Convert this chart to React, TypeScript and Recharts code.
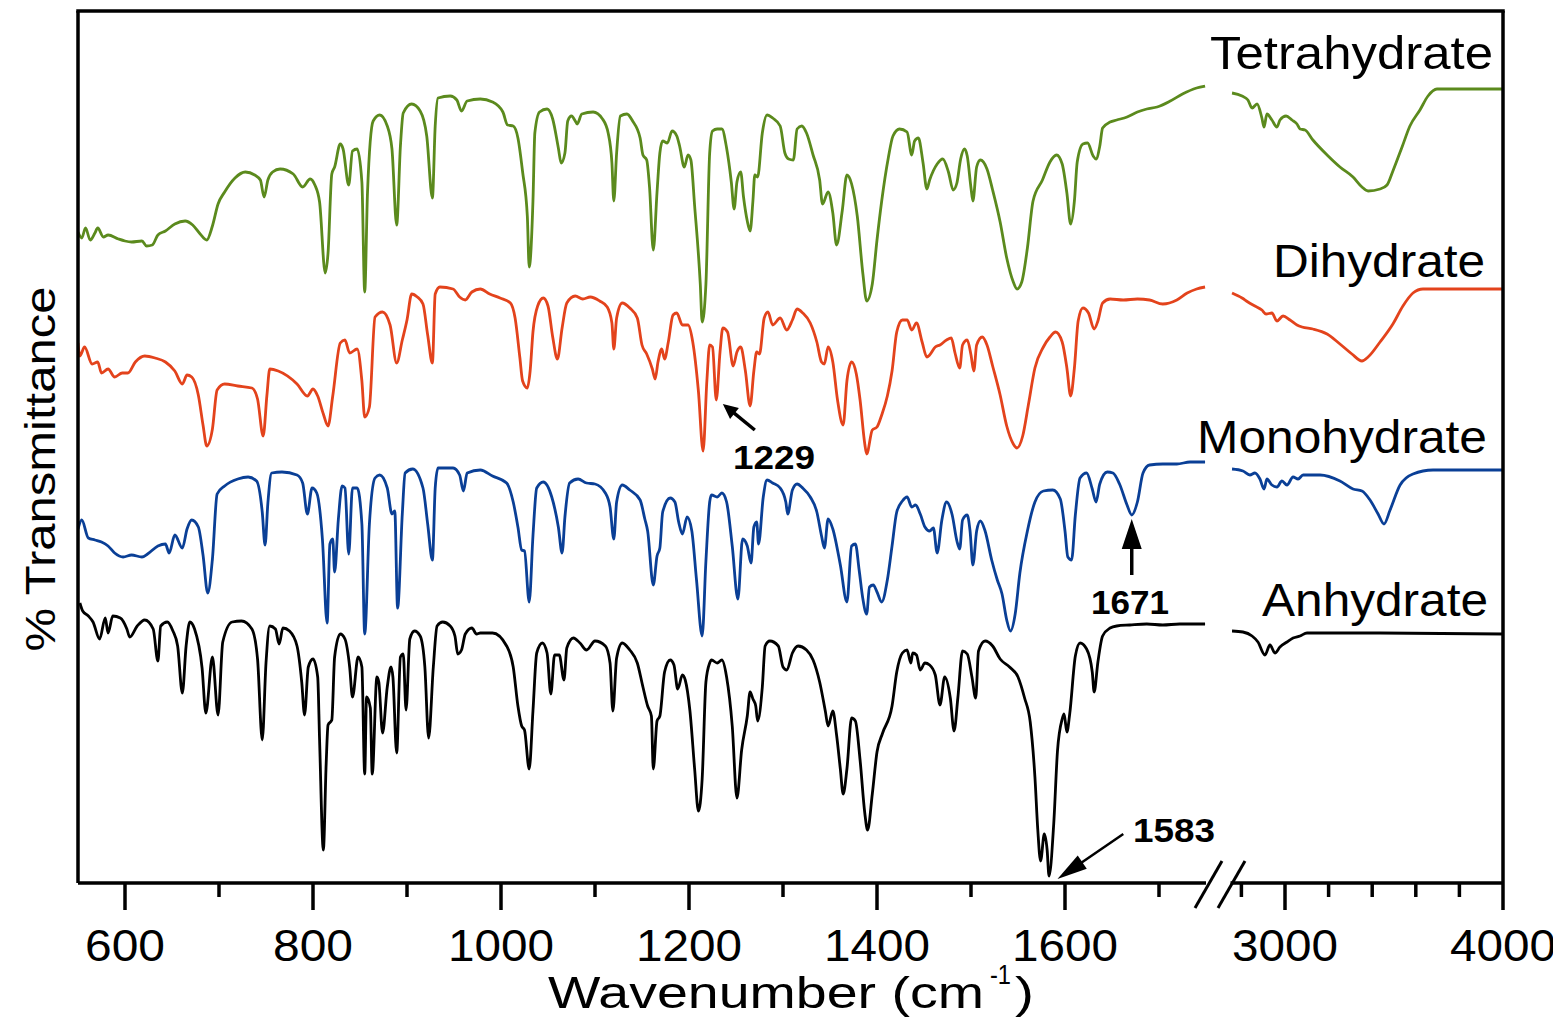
import React from "react";
import { LineChart, Line, XAxis, YAxis, ReferenceLine } from "recharts";

// ---------- data (wavenumber cm^-1, offset transmittance in arbitrary units) ----------
const tetrahydrateLow: [number, number][] = [
  [550,651],[554,645],[558,655],[563,643],[568,650],[571,655],[577,646],[582,648],[593,644],[600,642],[607,641],[618,642],[623,637],[629,638],[635,648],[643,652],[653,659],[664,662],[672,658],[680,649],[687,643],[693,657],[699,679],[706,691],[717,705],[728,711],[738,708],[744,703],[748,686],[752,703],[757,711],[765,714],[779,709],[789,696],[797,704],[802,698],[807,681],[813,610],[816,630],[820,709],[823,716],[829,739],[832,734],[838,698],[842,732],[847,734],[852,701],[855,591],[858,691],[864,762],[871,768],[879,757],[884,734],[889,658],[893,737],[896,770],[905,779],[914,772],[921,747],[927,685],[930,757],[933,785],[946,787],[953,783],[958,772],[964,782],[978,784],[991,781],[1002,771],[1007,758],[1013,757],[1018,745],[1023,711],[1028,667],[1030,616],[1034,682],[1036,750],[1041,771],[1049,774],[1055,764],[1061,735],[1064,720],[1068,730],[1071,762],[1075,767],[1079,762],[1081,759],[1086,769],[1098,771],[1108,764],[1114,750],[1118,720],[1120,682],[1123,730],[1127,767],[1134,769],[1140,762],[1148,745],[1151,728],[1155,723],[1158,696],[1162,633],[1166,691],[1169,730],[1172,742],[1177,740],[1182,752],[1187,747],[1190,737],[1195,716],[1199,728],[1202,723],[1206,677],[1212,599],[1214,561],[1218,599],[1222,730],[1225,752],[1230,754],[1235,754],[1240,735],[1245,701],[1248,674],[1251,701],[1255,711],[1258,686],[1262,662],[1265,652],[1268,682],[1270,708],[1273,706],[1278,750],[1283,768],[1289,765],[1297,757],[1302,730],[1306,724],[1311,723],[1315,754],[1320,757],[1325,750],[1332,728],[1339,703],[1342,679],[1348,691],[1353,670],[1357,638],[1363,672],[1368,708],[1373,699],[1379,667],[1385,609],[1389,582],[1395,599],[1400,643],[1405,682],[1412,725],[1417,747],[1424,754],[1432,751],[1437,728],[1440,742],[1444,745],[1449,720],[1453,694],[1456,703],[1464,719],[1470,724],[1476,711],[1481,693],[1485,700],[1489,724],[1493,734],[1496,727],[1500,695],[1502,682],[1506,716],[1510,723],[1517,714],[1523,693],[1531,661],[1538,625],[1545,601],[1549,594],[1554,601],[1560,635],[1566,682],[1576,703],[1584,721],[1591,728],[1597,719],[1602,690],[1606,659],[1610,682],[1613,721],[1619,739],[1624,740],[1630,727],[1633,724],[1637,737],[1640,755],[1648,761],[1655,763],[1666,766],[1677,771],[1687,774],[1698,776],[1712,782],[1725,789],[1740,795],[1749,797],
];
const tetrahydrateHigh: [number, number][] = [
  [2757,790],[2803,787],[2830,783],[2849,775],[2872,779],[2894,765],[2904,756],[2917,769],[2940,763],[2963,756],[2977,763],[3005,767],[3032,763],[3055,759],[3069,754],[3092,753],[3128,743],[3193,728],[3252,716],[3312,706],[3353,696],[3381,692],[3436,694],[3468,698],[3495,712],[3537,736],[3573,757],[3619,773],[3656,787],[3697,794],[3743,794],[4000,794],
];

const dihydrateLow: [number, number][] = [
  [550,540],[552,527],[557,536],[565,519],[571,521],[575,510],[582,514],[589,506],[597,510],[603,510],[611,521],[621,527],[632,525],[643,521],[653,512],[661,499],[666,508],[671,506],[678,488],[683,458],[687,437],[693,454],[698,493],[706,499],[720,497],[735,495],[741,484],[747,447],[751,488],[754,514],[763,512],[783,499],[794,487],[800,494],[805,487],[811,469],[816,457],[821,487],[829,540],[834,543],[839,530],[847,534],[852,502],[855,466],[860,476],[866,566],[874,571],[882,558],[889,520],[895,543],[900,563],[905,589],[911,586],[917,579],[922,548],[927,520],[930,589],[935,596],[949,594],[956,586],[962,583],[969,591],[978,594],[988,589],[999,585],[1010,580],[1015,565],[1020,526],[1023,502],[1028,495],[1031,512],[1034,551],[1039,577],[1045,585],[1050,577],[1055,546],[1060,524],[1065,555],[1070,580],[1079,587],[1087,584],[1095,586],[1105,582],[1113,576],[1118,560],[1120,534],[1123,565],[1129,580],[1137,575],[1145,565],[1150,538],[1155,529],[1161,514],[1164,504],[1167,521],[1171,534],[1174,524],[1178,541],[1183,568],[1187,570],[1193,558],[1199,558],[1204,541],[1210,492],[1215,432],[1219,502],[1222,538],[1225,536],[1229,483],[1233,531],[1236,555],[1241,551],[1247,517],[1251,531],[1255,536],[1260,512],[1265,477],[1269,512],[1272,531],[1275,529],[1280,565],[1284,571],[1289,558],[1297,565],[1304,553],[1310,563],[1315,574],[1321,570],[1329,560],[1336,541],[1341,521],[1344,519],[1348,536],[1353,521],[1358,483],[1364,458],[1368,502],[1373,521],[1378,509],[1382,483],[1387,439],[1389,429],[1395,453],[1400,456],[1405,468],[1411,487],[1416,512],[1421,551],[1427,563],[1432,563],[1437,553],[1442,560],[1448,541],[1453,526],[1456,528],[1462,536],[1467,538],[1474,543],[1479,545],[1483,530],[1488,515],[1491,538],[1496,543],[1500,528],[1503,512],[1506,538],[1512,546],[1517,538],[1523,517],[1531,488],[1538,457],[1545,439],[1549,435],[1555,447],[1561,478],[1568,515],[1577,536],[1584,546],[1590,551],[1597,541],[1602,515],[1606,487],[1610,515],[1614,562],[1619,575],[1625,570],[1631,554],[1635,562],[1640,580],[1648,584],[1662,583],[1677,584],[1690,583],[1704,579],[1719,583],[1730,590],[1740,594],[1749,596],
];
const dihydrateHigh: [number, number][] = [
  [2757,590],[2803,585],[2830,581],[2862,577],[2894,573],[2913,569],[2940,570],[2963,562],[2991,567],[3023,563],[3055,558],[3078,556],[3128,554],[3193,549],[3252,539],[3307,529],[3353,522],[3381,526],[3436,541],[3495,559],[3541,577],[3587,590],[3633,594],[3743,594],[4000,594],
];

const monohydrateLow: [number, number][] = [
  [550,354],[554,363],[561,345],[568,343],[575,341],[582,337],[589,330],[598,326],[607,328],[618,326],[624,329],[635,337],[643,339],[647,330],[653,348],[661,335],[666,354],[671,363],[678,356],[683,328],[688,290],[693,324],[698,389],[706,397],[720,404],[731,406],[740,402],[746,371],[749,338],[752,380],[756,410],[767,411],[783,408],[789,400],[794,369],[799,395],[804,390],[810,344],[815,260],[818,339],[821,344],[823,311],[827,364],[831,397],[834,395],[838,329],[842,395],[847,395],[852,359],[855,249],[860,359],[866,405],[871,408],[879,395],[884,369],[887,372],[890,275],[895,369],[898,410],[906,414],[917,395],[922,359],[927,323],[930,395],[933,415],[949,415],[956,408],[960,392],[964,410],[978,413],[991,407],[1006,400],[1013,381],[1018,356],[1022,333],[1025,332],[1030,281],[1034,347],[1038,395],[1045,401],[1054,386],[1061,356],[1065,330],[1068,366],[1073,400],[1082,404],[1091,400],[1100,399],[1111,390],[1116,376],[1120,344],[1123,381],[1129,398],[1137,393],[1148,383],[1153,364],[1156,352],[1162,298],[1166,327],[1169,335],[1172,371],[1180,385],[1185,381],[1189,361],[1193,349],[1198,366],[1203,352],[1208,303],[1214,247],[1218,322],[1222,381],[1224,388],[1230,386],[1235,390],[1240,381],[1246,337],[1252,284],[1257,344],[1262,337],[1266,320],[1269,356],[1272,361],[1274,339],[1279,386],[1283,403],[1289,400],[1297,395],[1303,381],[1305,369],[1310,393],[1315,399],[1321,395],[1329,386],[1336,371],[1341,347],[1344,335],[1348,364],[1353,354],[1361,318],[1368,281],[1373,337],[1377,339],[1381,313],[1385,284],[1389,269],[1392,296],[1396,298],[1400,291],[1405,281],[1411,303],[1416,337],[1421,371],[1427,382],[1432,386],[1437,376],[1441,378],[1446,369],[1451,356],[1456,352],[1460,355],[1464,330],[1469,363],[1474,381],[1480,368],[1485,342],[1488,334],[1491,363],[1496,368],[1499,352],[1502,318],[1506,352],[1510,362],[1515,352],[1522,323],[1528,303],[1533,289],[1538,263],[1542,252],[1547,269],[1552,310],[1560,352],[1568,381],[1577,392],[1587,393],[1595,384],[1600,352],[1603,326],[1607,323],[1611,368],[1616,405],[1623,410],[1629,394],[1633,381],[1637,399],[1645,411],[1651,410],[1658,399],[1666,378],[1671,368],[1677,381],[1683,410],[1690,418],[1704,419],[1719,419],[1733,421],[1749,421],
];
const monohydrateHigh: [number, number][] = [
  [2757,414],[2807,412],[2839,408],[2862,410],[2885,404],[2904,394],[2917,404],[2940,398],[2963,396],[2986,402],[3009,398],[3037,406],[3060,404],[3083,408],[3161,408],[3252,402],[3312,394],[3353,392],[3390,383],[3427,369],[3454,359],[3482,373],[3528,398],[3587,409],[3679,413],[4000,413],
];

const anhydrateLow: [number, number][] = [
  [552,280],[555,272],[561,267],[566,261],[573,244],[579,265],[582,250],[587,267],[595,265],[602,254],[605,246],[613,257],[621,263],[630,254],[635,222],[638,257],[645,261],[651,252],[656,237],[661,190],[665,237],[669,261],[674,254],[682,215],[686,170],[693,226],[699,168],[704,241],[714,261],[724,262],[735,254],[741,224],[746,143],[750,220],[754,257],[760,254],[764,239],[768,255],[775,252],[783,237],[788,201],[791,168],[795,216],[800,224],[805,206],[807,143],[811,33],[814,119],[816,158],[820,163],[823,226],[829,249],[834,244],[839,216],[842,186],[848,226],[852,216],[855,109],[857,186],[861,175],[863,109],[868,206],[870,201],[874,150],[879,196],[883,216],[885,206],[889,130],[893,226],[896,229],[899,173],[903,244],[908,252],[914,247],[919,216],[923,145],[928,216],[932,257],[938,261],[946,257],[951,247],[954,229],[958,233],[962,249],[969,255],[974,249],[978,250],[991,250],[1006,237],[1013,216],[1018,177],[1022,157],[1025,153],[1030,114],[1034,172],[1038,230],[1044,240],[1049,230],[1053,189],[1057,228],[1062,228],[1067,203],[1070,235],[1077,245],[1084,240],[1091,233],[1100,242],[1111,237],[1116,220],[1119,172],[1123,225],[1129,240],[1137,233],[1145,220],[1151,196],[1156,177],[1160,167],[1162,114],[1166,162],[1169,167],[1174,211],[1180,223],[1184,218],[1188,194],[1193,208],[1196,203],[1201,172],[1206,114],[1210,72],[1214,104],[1218,201],[1222,220],[1224,223],[1230,220],[1235,223],[1240,206],[1246,157],[1251,85],[1256,133],[1262,167],[1265,191],[1268,184],[1271,177],[1273,162],[1278,196],[1281,237],[1286,242],[1295,237],[1300,216],[1304,213],[1310,230],[1316,237],[1325,233],[1332,223],[1339,201],[1345,172],[1348,157],[1353,172],[1357,148],[1361,114],[1364,89],[1368,114],[1373,165],[1377,162],[1382,123],[1387,70],[1390,53],[1395,89],[1400,131],[1406,150],[1416,177],[1421,211],[1427,230],[1432,233],[1436,220],[1438,230],[1442,228],[1446,213],[1451,220],[1456,218],[1462,208],[1467,178],[1472,206],[1478,185],[1482,152],[1486,185],[1491,232],[1496,229],[1501,206],[1505,185],[1508,232],[1515,242],[1523,237],[1531,224],[1541,216],[1550,206],[1557,185],[1563,161],[1568,106],[1571,54],[1574,22],[1578,49],[1581,33],[1583,7],[1588,59],[1592,132],[1597,164],[1599,169],[1602,151],[1605,169],[1611,227],[1616,240],[1623,234],[1629,211],[1631,191],[1635,221],[1640,247],[1648,255],[1655,257],[1669,258],[1687,259],[1704,258],[1722,259],[1749,259],
];
const anhydrateHigh: [number, number][] = [
  [2757,252],[2807,251],[2849,247],[2876,241],[2908,228],[2931,238],[2954,230],[2977,236],[3009,241],[3037,245],[3069,247],[3101,250],[3206,250],[3436,250],[4000,249],
];

const lowMajorTicks = [600, 800, 1000, 1200, 1400, 1600];
const lowMinorTicks = [700, 900, 1100, 1300, 1500, 1700];
const highMajorTicks = [3000, 4000];
const highMinorTicks = [2800, 3200, 3400, 3600, 3800];

const seriesNames = ["Tetrahydrate", "Dihydrate", "Monohydrate", "Anhydrate"];
const peakLabels = ["1229", "1671", "1583"];

// ---------- styling ----------
const W = 1553;
const H = 1018;
const FONT = "Arial, 'Liberation Sans', Helvetica, sans-serif";
const GREEN = "#5b8a1d";
const RED = "#e3431c";
const BLUE = "#0a3f96";
const BLACK = "#000000";
const LINE_W = 2.8;
const Y_DOMAIN: [number, number] = [0, 872];

const toPts = (arr: [number, number][]) => arr.map(([x, y]) => ({ x, y }));

function makeTick(majors: number[]) {
  return (props: any) => {
    const { x, y, payload } = props;
    const v = payload.value as number;
    const major = majors.includes(v);
    const label = String(v);
    return (
      <g>
        <line x1={x} y1={y} x2={x} y2={y + (major ? 27 : 14)} stroke="#000" strokeWidth={3.5} />
        {major && (
          <text
            x={x}
            y={y + 78}
            textAnchor="middle"
            fontFamily={FONT}
            fontSize={44}
            fill="#000"
            textLength={label.length === 3 ? 80 : 106}
            lengthAdjust="spacingAndGlyphs"
          >
            {label}
          </text>
        )}
      </g>
    );
  };
}

function makeArrow(headLen: number, headHalf: number, shaft: number) {
  return (props: any) => {
    const { x1, y1, x2, y2 } = props;
    const dx = x2 - x1;
    const dy = y2 - y1;
    const len = Math.sqrt(dx * dx + dy * dy) || 1;
    const ux = dx / len;
    const uy = dy / len;
    const bx = x2 - ux * headLen;
    const by = y2 - uy * headLen;
    const px = -uy * headHalf;
    const py = ux * headHalf;
    return (
      <g>
        <line x1={x1} y1={y1} x2={bx + ux * 2} y2={by + uy * 2} stroke="#000" strokeWidth={shaft} />
        <polygon points={`${x2},${y2} ${bx + px},${by + py} ${bx - px},${by - py}`} fill="#000" />
      </g>
    );
  };
}

const lineProps = {
  type: "monotoneX" as const,
  dataKey: "y",
  dot: false,
  activeDot: false,
  isAnimationActive: false,
  strokeWidth: LINE_W,
  strokeLinejoin: "round" as const,
};

export default function App() {
  return (
    <div style={{ position: "absolute", left: 0, top: 0, width: W, height: H, background: "#fff" }}>
      {/* low-wavenumber panel */}
      <div style={{ position: "absolute", left: 0, top: 0 }}>
        <LineChart width={W} height={H} margin={{ top: 11, right: W - 1206, bottom: 0, left: 0 }}>
          <XAxis
            dataKey="x"
            type="number"
            domain={[550, 1750]}
            ticks={[...lowMajorTicks, ...lowMinorTicks]}
            interval={0}
            height={135}
            tickSize={0}
            tickMargin={0}
            tickLine={false}
            tick={makeTick(lowMajorTicks)}
            axisLine={{ stroke: "#000", strokeWidth: 3.5 }}
            allowDataOverflow
          />
          <YAxis
            type="number"
            domain={Y_DOMAIN}
            width={78}
            tick={false}
            tickLine={false}
            axisLine={{ stroke: "#000", strokeWidth: 3.5 }}
            allowDataOverflow
          />
          <Line {...lineProps} data={toPts(tetrahydrateLow)} stroke={GREEN} name={seriesNames[0]} />
          <Line {...lineProps} data={toPts(dihydrateLow)} stroke={RED} name={seriesNames[1]} />
          <Line {...lineProps} data={toPts(monohydrateLow)} stroke={BLUE} name={seriesNames[2]} />
          <Line {...lineProps} data={toPts(anhydrateLow)} stroke={BLACK} name={seriesNames[3]} />
          <ReferenceLine
            segment={[{ x: 1270, y: 453 }, { x: 1236, y: 479 }]}
            shape={makeArrow(15, 7, 3.5)}
            ifOverflow="visible"
          />
          <ReferenceLine
            segment={[{ x: 1671, y: 308 }, { x: 1671, y: 364 }]}
            shape={makeArrow(30, 10, 3.5)}
            ifOverflow="visible"
          />
          <ReferenceLine
            segment={[{ x: 1662, y: 49 }, { x: 1592, y: 4 }]}
            shape={makeArrow(30, 8, 2.5)}
            ifOverflow="visible"
          />
        </LineChart>
      </div>

      {/* high-wavenumber panel */}
      <div style={{ position: "absolute", left: 0, top: 0 }}>
        <LineChart width={W} height={H} margin={{ top: 11, right: 0, bottom: 0, left: 1230.5 }}>
          <XAxis
            dataKey="x"
            type="number"
            domain={[2750, 4000]}
            ticks={[...highMinorTicks, ...highMajorTicks]}
            interval={0}
            height={135}
            tickSize={0}
            tickMargin={0}
            tickLine={false}
            tick={makeTick(highMajorTicks)}
            axisLine={{ stroke: "#000", strokeWidth: 3.5 }}
            allowDataOverflow
          />
          <YAxis
            type="number"
            orientation="right"
            domain={Y_DOMAIN}
            width={50}
            tick={false}
            tickLine={false}
            axisLine={{ stroke: "#000", strokeWidth: 3.5 }}
            allowDataOverflow
          />
          <Line {...lineProps} data={toPts(tetrahydrateHigh)} stroke={GREEN} name={seriesNames[0]} />
          <Line {...lineProps} data={toPts(dihydrateHigh)} stroke={RED} name={seriesNames[1]} />
          <Line {...lineProps} data={toPts(monohydrateHigh)} stroke={BLUE} name={seriesNames[2]} />
          <Line {...lineProps} data={toPts(anhydrateHigh)} stroke={BLACK} name={seriesNames[3]} />
        </LineChart>
      </div>

      {/* frame top, axis break and text */}
      <svg width={W} height={H} style={{ position: "absolute", left: 0, top: 0, pointerEvents: "none" }}>
        <line x1={76.25} y1={11} x2={1504.75} y2={11} stroke="#000" strokeWidth={3.5} />
        <line x1={1195} y1={908} x2={1222} y2={861} stroke="#000" strokeWidth={3} />
        <line x1={1218} y1={908} x2={1245} y2={861} stroke="#000" strokeWidth={3} />

        <g fontFamily={FONT} fill="#000">
          <text x={1210} y={69} fontSize={46} textLength={283} lengthAdjust="spacingAndGlyphs">{seriesNames[0]}</text>
          <text x={1273} y={277} fontSize={46} textLength={212} lengthAdjust="spacingAndGlyphs">{seriesNames[1]}</text>
          <text x={1197} y={453} fontSize={46} textLength={290} lengthAdjust="spacingAndGlyphs">{seriesNames[2]}</text>
          <text x={1262} y={616} fontSize={46} textLength={226} lengthAdjust="spacingAndGlyphs">{seriesNames[3]}</text>

          <text x={733} y={469} fontSize={33} fontWeight="bold" textLength={82} lengthAdjust="spacingAndGlyphs">{peakLabels[0]}</text>
          <text x={1091} y={614} fontSize={33} fontWeight="bold" textLength={78} lengthAdjust="spacingAndGlyphs">{peakLabels[1]}</text>
          <text x={1133} y={842} fontSize={33} fontWeight="bold" textLength={82} lengthAdjust="spacingAndGlyphs">{peakLabels[2]}</text>

          <text
            transform="translate(55,469) rotate(-90)"
            textAnchor="middle"
            fontSize={43}
            textLength={365}
            lengthAdjust="spacingAndGlyphs"
          >
            % Transmittance
          </text>

          <text x={548} y={1008} fontSize={44} textLength={436} lengthAdjust="spacingAndGlyphs">Wavenumber (cm</text>
          <text x={990} y={984} fontSize={28} textLength={21} lengthAdjust="spacingAndGlyphs">-1</text>
          <text x={1015} y={1008} fontSize={44} textLength={19} lengthAdjust="spacingAndGlyphs">)</text>
        </g>
      </svg>
    </div>
  );
}
